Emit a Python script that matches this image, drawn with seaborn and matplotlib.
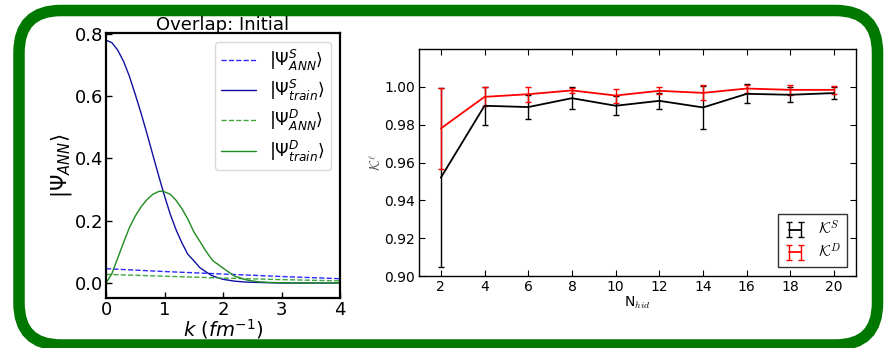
import numpy as np
import pandas as pd
import matplotlib
matplotlib.use("Agg")
import matplotlib.pyplot as plt
from matplotlib.patches import FancyBboxPatch
from matplotlib.transforms import IdentityTransform
import seaborn as sns

# ---- left panel: momentum-space wave functions ----
k_train = [0.0, 0.1, 0.2, 0.3, 0.4, 0.5, 0.6, 0.7, 0.8, 0.9, 0.95, 1.0, 1.1, 1.2, 1.3,
           1.4, 1.5, 1.6, 1.7, 1.8, 1.85, 1.9, 2.0, 2.2, 2.4, 2.6, 2.8, 3.0, 3.5, 4.0]
psi_train_S = [0.780, 0.772, 0.748, 0.712, 0.664, 0.606, 0.545, 0.480, 0.412, 0.345, 0.312,
               0.280, 0.220, 0.170, 0.128, 0.092, 0.072, 0.050, 0.037, 0.025, 0.021, 0.018,
               0.012, 0.006, 0.003, 0.002, 0.001, 0.000, 0.000, 0.000]
psi_train_D = [0.000, 0.030, 0.080, 0.130, 0.178, 0.215, 0.245, 0.268, 0.285, 0.294, 0.295,
               0.293, 0.285, 0.265, 0.238, 0.205, 0.165, 0.135, 0.105, 0.078, 0.068, 0.062,
               0.048, 0.022, 0.010, 0.004, 0.002, 0.001, 0.000, 0.000]
k_ann = [0.0, 1.0, 2.0, 3.0, 4.0]
psi_ann_S = [0.046, 0.037, 0.029, 0.021, 0.014]
psi_ann_D = [0.028, 0.022, 0.016, 0.011, 0.007]

# ---- right panel: overlap vs. number of hidden nodes ----
n_hid = [2, 4, 6, 8, 10, 12, 14, 16, 18, 20]
overlap_S = [0.952, 0.990, 0.9893, 0.9940, 0.9900, 0.9926, 0.9891, 0.9963, 0.9958, 0.9967]
err_S = [0.0474, 0.0100, 0.0064, 0.0058, 0.0050, 0.0044, 0.0116, 0.0050, 0.0040, 0.0032]
overlap_D = [0.978, 0.9947, 0.9961, 0.9981, 0.9954, 0.9979, 0.9968, 0.9991, 0.9984, 0.9984]
err_D = [0.0216, 0.0050, 0.0040, 0.0015, 0.0037, 0.0018, 0.0040, 0.0021, 0.0028, 0.0023]

sns.set_style("white")
plt.rcParams["font.family"] = ["DejaVu Sans"]
plt.rcParams.update({"text.color": "black", "axes.labelcolor": "black",
                     "xtick.color": "black", "ytick.color": "black"})

fig = plt.figure(figsize=(8.88, 3.48), dpi=100)

# green rounded frame around both panels (pixel coordinates)
frame = FancyBboxPatch((19, 3), 858.5, 334.5,
                       boxstyle="round,pad=0,rounding_size=42",
                       transform=IdentityTransform(), fill=False,
                       edgecolor="#007800", linewidth=11.5 * 0.72, zorder=0)
fig.add_artist(frame)

# ---------------- left panel ----------------
ax1 = fig.add_axes([106 / 888, 50 / 348, 234 / 888, 265 / 348])
train = pd.DataFrame({"k": k_train, "S": psi_train_S, "D": psi_train_D})
ann = pd.DataFrame({"k": k_ann, "S": psi_ann_S, "D": psi_ann_D})

sns.lineplot(data=ann, x="k", y="S", ax=ax1, color="#2a2aff", lw=1.0,
             linestyle="--", label=r"$|\Psi^{S}_{ANN}\rangle$")
sns.lineplot(data=train, x="k", y="S", ax=ax1, color="#1010a0", lw=1.0,
             label=r"$|\Psi^{S}_{train}\rangle$")
sns.lineplot(data=ann, x="k", y="D", ax=ax1, color="#3fa63f", lw=1.0,
             linestyle="--", label=r"$|\Psi^{D}_{ANN}\rangle$")
sns.lineplot(data=train, x="k", y="D", ax=ax1, color="#1f8a1f", lw=1.0,
             label=r"$|\Psi^{D}_{train}\rangle$")

ax1.set_xlim(0, 4)
ax1.set_ylim(-0.048, 0.803)
ax1.set_xticks([0, 1, 2, 3, 4])
ax1.set_yticks([0.0, 0.2, 0.4, 0.6, 0.8])
ax1.set_yticklabels(["0.0", "0.2", "0.4", "0.6", "0.8"])
ax1.tick_params(direction="in", length=4, width=1, labelsize=13, pad=2,
                left=True, bottom=True)
for s in ax1.spines.values():
    s.set_color("black")
    s.set_linewidth(1.6)
ax1.set_xlabel(r"$k\ (fm^{-1})$", fontsize=14, labelpad=-1)
ax1.set_ylabel(r"$|\Psi_{ANN}\rangle$", fontsize=15, labelpad=0.5)
ax1.set_title("Overlap: Initial", fontsize=13, pad=2)
leg1 = ax1.legend(loc="upper right", fontsize=12.5, handlelength=2.0,
                  borderaxespad=0.5, labelspacing=0.3, borderpad=0.35,
                  frameon=True)
leg1.get_frame().set_edgecolor("#d0d0d0")

# ---------------- right panel ----------------
ax2 = fig.add_axes([419 / 888, 72 / 348, 437 / 888, 227 / 348])
ax2.errorbar(n_hid, overlap_S, yerr=err_S, fmt="-", color="black", lw=1.3,
             elinewidth=1.0, capsize=2.0, capthick=1.0, label=r"$\mathcal{K}^S$")
ax2.errorbar(n_hid, overlap_D, yerr=err_D, fmt="-", color="red", lw=1.3,
             elinewidth=1.0, capsize=2.0, capthick=1.0, label=r"$\mathcal{K}^D$")

ax2.set_xlim(1, 21)
ax2.set_ylim(0.90, 1.02)
ax2.set_xticks(n_hid)
ax2.set_yticks([0.90, 0.92, 0.94, 0.96, 0.98, 1.00])
ax2.set_yticklabels(["0.90", "0.92", "0.94", "0.96", "0.98", "1.00"])
ax2.tick_params(direction="in", length=4, width=0.8, labelsize=10, pad=3,
                left=True, bottom=True, right=True, top=True)
for s in ax2.spines.values():
    s.set_color("black")
    s.set_linewidth(1.0)
ax2.set_xlabel(r"N$_{hid}$", fontsize=10, labelpad=0, math_fontfamily="cm")
ax2.set_ylabel(r"$\mathcal{K}^{\ell}$", fontsize=10, labelpad=0, color="#444444",
               math_fontfamily="cm")
leg2 = ax2.legend(loc="lower right", fancybox=False, framealpha=1, numpoints=2,
                  handlelength=1.4, borderaxespad=0.6, labelspacing=0.3,
                  prop={"size": 11, "math_fontfamily": "cm"})
leg2.get_frame().set_edgecolor("#333333")
leg2.get_frame().set_linewidth(1.0)

fig.savefig("out.png", dpi=100)
